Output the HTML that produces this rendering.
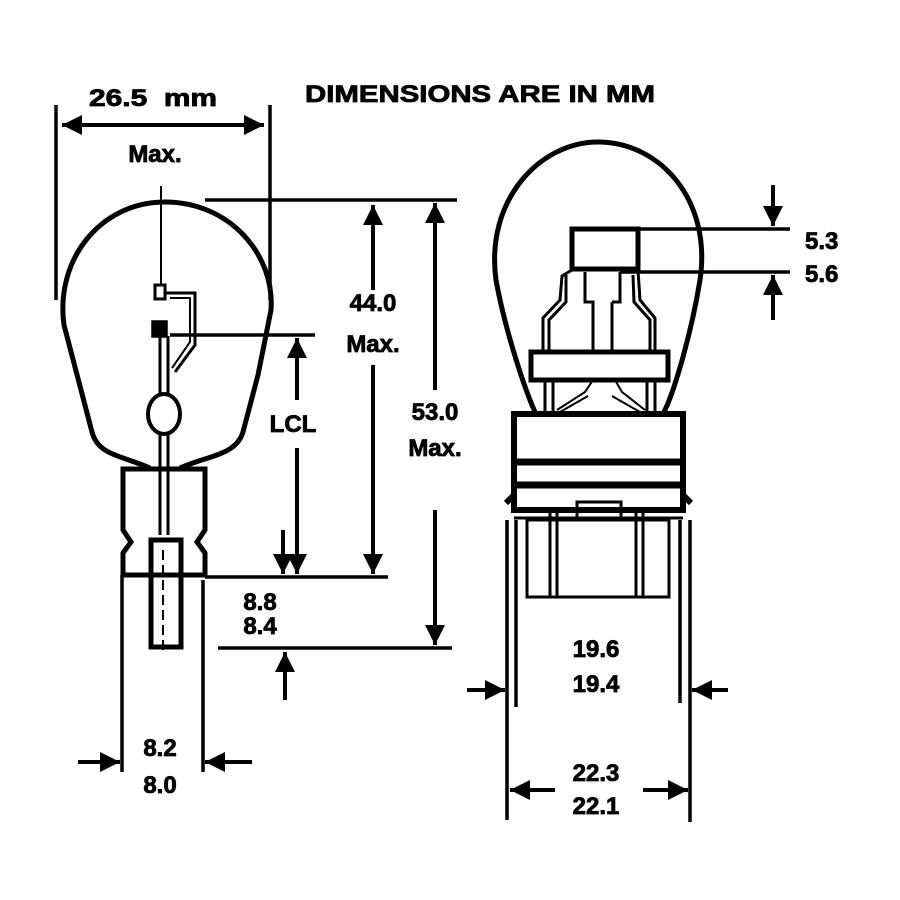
<!DOCTYPE html>
<html><head><style>body{margin:0;background:#fff}svg{display:block}text{font-family:"Liberation Sans",sans-serif;font-weight:bold;fill:#000;stroke:#000;stroke-width:0.8}</style></head><body>
<svg width="900" height="900" viewBox="0 0 900 900" xmlns="http://www.w3.org/2000/svg">
<defs>
<marker id="a" viewBox="0 0 10 10" refX="10" refY="5" markerWidth="5" markerHeight="5" orient="auto-start-reverse"><path d="M0 0L10 5L0 10z" fill="#000"/></marker>
</defs>
<g stroke="#000" fill="none" stroke-width="3.5">
<line x1="56" y1="105" x2="56" y2="300"/>
<line x1="270" y1="105" x2="270" y2="300"/>
<line x1="62" y1="125" x2="264" y2="125" marker-start="url(#a)" marker-end="url(#a)" stroke-width="4"/>
<path d="M150 468 C120 455 98 455 92 432 L64 325 C55 260 100 202 165 202 C230 202 275 255 271 310 L258 375 L243 432 C236 455 210 455 180 468" stroke-width="5"/>
<path d="M123 469 L205 469 L205 530 L197 542 L205 553 L205 575 L123 575 L123 553 L131 542 L123 530 Z" stroke-width="5"/>
<rect x="151" y="540" width="30" height="107" stroke-width="5"/>
<line x1="161" y1="186" x2="161" y2="286" stroke-width="2"/>
<line x1="163" y1="550" x2="163" y2="655" stroke-width="2" stroke-dasharray="10,5"/>
<rect x="155" y="285" width="10" height="14" stroke-width="3"/>
<rect x="153" y="322" width="13" height="14" fill="#000"/>
<path d="M165 293 L195 293 L195 345 L175 372" stroke-width="3"/>
<path d="M170 298 L190 298 L190 342 L172 368" stroke-width="2"/>
<line x1="160" y1="336" x2="160" y2="395" stroke-width="3"/>
<line x1="168" y1="336" x2="168" y2="395" stroke-width="3"/>
<ellipse cx="164" cy="414" rx="16" ry="20" stroke-width="4"/>
<line x1="160" y1="433" x2="160" y2="535" stroke-width="3"/>
<line x1="168" y1="433" x2="168" y2="535" stroke-width="3"/>
<line x1="122" y1="575" x2="122" y2="772"/>
<line x1="203" y1="580" x2="203" y2="772"/>
<line x1="78" y1="762" x2="120" y2="762" marker-end="url(#a)" stroke-width="4"/>
<line x1="252" y1="762" x2="205" y2="762" marker-end="url(#a)" stroke-width="4"/>
<line x1="205" y1="200" x2="457" y2="200"/>
<line x1="170" y1="335" x2="315" y2="335"/>
<line x1="205" y1="577" x2="388" y2="577"/>
<line x1="218" y1="648" x2="452" y2="648"/>
<line x1="373" y1="290" x2="373" y2="205" marker-end="url(#a)" stroke-width="4"/>
<line x1="373" y1="365" x2="373" y2="574" marker-end="url(#a)" stroke-width="4"/>
<line x1="435" y1="390" x2="435" y2="203" marker-end="url(#a)" stroke-width="4"/>
<line x1="435" y1="510" x2="435" y2="645" marker-end="url(#a)" stroke-width="4"/>
<line x1="297" y1="400" x2="297" y2="338" marker-end="url(#a)" stroke-width="4"/>
<line x1="297" y1="448" x2="297" y2="574" marker-end="url(#a)" stroke-width="4"/>
<line x1="283" y1="530" x2="283" y2="574" marker-end="url(#a)" stroke-width="4"/>
<line x1="285" y1="700" x2="285" y2="652" marker-end="url(#a)" stroke-width="4"/>
<path d="M535 412 C525 390 505 330 496 280 C485 200 540 142 598 142 C660 142 712 200 700 280 C692 330 675 390 664 412" stroke-width="5"/>
<rect x="572" y="229" width="66" height="40" stroke-width="5"/>
<path d="M585 272 L585 302 L593 302 L593 352 M612 302 L612 352 M612 302 L620 302 L620 272" stroke-width="3"/>
<path d="M572 270 L562 276 L560 300 L543 318 L543 352 M566 275 L566 302 L549 320 L549 352" stroke-width="3"/>
<path d="M638 270 L640 300 L655 318 L655 352 M633 275 L634 302 L650 320 L650 352" stroke-width="3"/>
<rect x="531" y="352" width="137" height="28" stroke-width="5"/>
<path d="M545 380 L545 412 M553 380 L553 412 M655 380 L655 412 M647 380 L647 412" stroke-width="3"/>
<path d="M557 410 L585 392 L593 380 M615 380 L622 392 L645 410 M560 412 L588 396 M612 396 L640 412" stroke-width="2"/>
<rect x="514" y="414" width="169" height="96" stroke-width="6"/>
<line x1="514" y1="462" x2="683" y2="462" stroke-width="7"/>
<line x1="514" y1="485" x2="683" y2="485" stroke-width="7"/>
<path d="M506 503 L514 495 M691 503 L683 495" stroke-width="6"/>
<line x1="514" y1="518" x2="683" y2="518" stroke-width="3"/>
<rect x="577" y="502" width="44" height="16" stroke-width="3"/>
<rect x="527" y="520" width="142" height="77" stroke-width="3"/>
<path d="M550 508 L550 597 M557 508 L557 597 M636 508 L636 597 M643 508 L643 597" stroke-width="3"/>
<line x1="516" y1="520" x2="516" y2="707"/>
<line x1="680" y1="520" x2="680" y2="703"/>
<line x1="507" y1="520" x2="507" y2="820"/>
<line x1="690" y1="520" x2="690" y2="822"/>
<line x1="467" y1="690" x2="505" y2="690" marker-end="url(#a)" stroke-width="4"/>
<line x1="728" y1="690" x2="692" y2="690" marker-end="url(#a)" stroke-width="4"/>
<line x1="555" y1="790" x2="510" y2="790" marker-end="url(#a)" stroke-width="4"/>
<line x1="643" y1="790" x2="688" y2="790" marker-end="url(#a)" stroke-width="4"/>
<line x1="638" y1="229" x2="790" y2="229"/>
<line x1="620" y1="272" x2="790" y2="272"/>
<line x1="773" y1="185" x2="773" y2="226" marker-end="url(#a)" stroke-width="4"/>
<line x1="773" y1="320" x2="773" y2="275" marker-end="url(#a)" stroke-width="4"/>
</g>
<g font-size="24">
<text x="305" y="102" textLength="350" lengthAdjust="spacingAndGlyphs">DIMENSIONS ARE IN MM</text>
<text x="89" y="106" textLength="128" lengthAdjust="spacingAndGlyphs">26.5&#160; mm</text>
<text x="155" y="162" text-anchor="middle">Max.</text>
<text x="373" y="311" text-anchor="middle">44.0</text>
<text x="373" y="352" text-anchor="middle">Max.</text>
<text x="435" y="420" text-anchor="middle">53.0</text>
<text x="435" y="456" text-anchor="middle">Max.</text>
<text x="293" y="432" text-anchor="middle">LCL</text>
<text x="260" y="610" text-anchor="middle">8.8</text>
<text x="260" y="634" text-anchor="middle">8.4</text>
<text x="160" y="756" text-anchor="middle">8.2</text>
<text x="160" y="793" text-anchor="middle">8.0</text>
<text x="596" y="657" text-anchor="middle">19.6</text>
<text x="596" y="692" text-anchor="middle">19.4</text>
<text x="596" y="781" text-anchor="middle">22.3</text>
<text x="596" y="814" text-anchor="middle">22.1</text>
<text x="805" y="249">5.3</text>
<text x="805" y="282">5.6</text>
</g>
</svg>
</body></html>
